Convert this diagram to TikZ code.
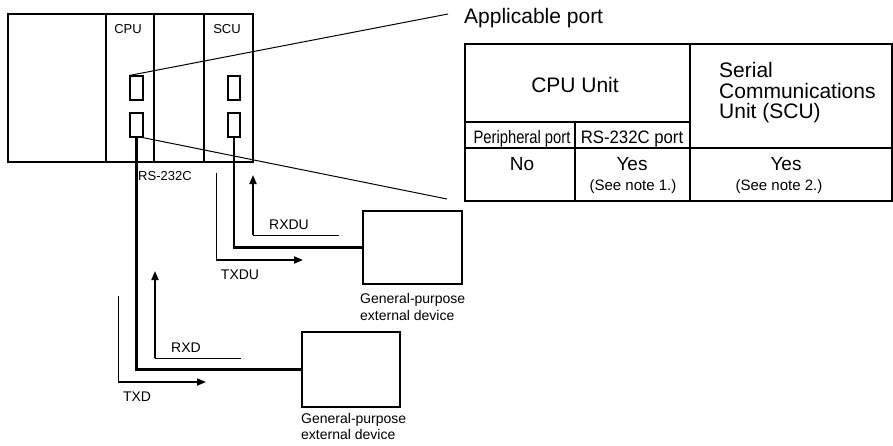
\documentclass[tikz,border=0pt]{standalone}
\usepackage{fontspec}
\setmainfont{Liberation Sans}
\usetikzlibrary{arrows.meta,calc}
\newcommand{\fsz}[1]{\fontsize{#1}{#1}\selectfont}
\begin{document}
\begin{tikzpicture}[x=1pt,y=-1pt,
  thinline/.style={line width=1pt},
  thickline/.style={line width=2.8pt},
  boxline/.style={line width=1.2pt},
  sig/.style={line width=1pt},
  sigarrow/.style={line width=1.8pt,-{Triangle[length=9pt,width=7pt]}},
  port/.style={draw,line width=1.1pt,rectangle,inner sep=0pt,minimum width=13pt,minimum height=24pt},
  dev/.style={draw,line width=1.2pt,rectangle,inner sep=0pt},
  lbl/.style={inner sep=0pt,anchor=base},
]
\useasboundingbox (0,0) rectangle (893,445);
\fill[white] (0,0) rectangle (893,445);

% rack
\draw[boxline] (8,14) rectangle (253,162);
\draw[boxline] (106,14) -- (106,162);
\draw[boxline] (154,14) -- (154,162);
\draw[boxline] (204,14) -- (204,162);
\node[lbl,font=\fsz{13}] (cpul) at (128,33) {CPU};
\node[lbl,font=\fsz{13}] (scul) at (227,33) {SCU};
\node[port] (cpuA) at (136.5,88) {};
\node[port] (cpuB) at (136.5,125) {};
\node[port,minimum width=12pt] (scuA) at (234,88) {};
\node[port,minimum width=12pt] (scuB) at (234,125) {};
\node[lbl,anchor=base west,font=\fsz{13}] (rs) at (138,180) {RS-232C};

% zoom lines
\coordinate (z1) at (448,14);
\coordinate (z2s) at (140,137);
\coordinate (z2) at (447,199);
\draw[thinline] (cpuA.north west) -- (z1);
\draw[thinline] (z2s) -- (z2);

% devices
\node[dev,minimum width=99pt,minimum height=73pt] (dev1) at (412.5,247.5) {};
\node[dev,minimum width=98pt,minimum height=75pt] (dev2) at (351,369.5) {};
\node[lbl,anchor=base west,font=\fsz{14}] (d1a) at (360,303) {General-purpose};
\node[lbl,anchor=base west,font=\fsz{14}] (d1b) at (360,320) {external device};
\node[lbl,anchor=base west,font=\fsz{14}] (d2a) at (301,423) {General-purpose};
\node[lbl,anchor=base west,font=\fsz{14}] (d2b) at (301,439) {external device};

% cables
\draw[thickline] (cpuB.south) |- (dev2.west);
\draw[thickline] (scuB.south) |- (dev1.west);

% signal arrows
\coordinate (rxdu0) at (339,235);
\coordinate (rxdu1) at (253,235);
\coordinate (rxdu2) at (253,175);
\draw[sig] (rxdu0) -- (rxdu1);
\draw[sigarrow] (rxdu1) -- (rxdu2);
\coordinate (txdu0) at (216,173);
\coordinate (txdu1) at (216,260);
\coordinate (txdu2) at (303,260);
\draw[sig] (txdu0) -- (txdu1);
\draw[sigarrow] (txdu1) -- (txdu2);
\coordinate (rxd0) at (241,358);
\coordinate (rxd1) at (155,358);
\coordinate (rxd2) at (155,271);
\draw[sig] (rxd0) -- (rxd1);
\draw[sigarrow] (rxd1) -- (rxd2);
\coordinate (txd0) at (118,296);
\coordinate (txd1) at (118,382);
\coordinate (txd2) at (206,382);
\draw[sig] (txd0) -- (txd1);
\draw[sigarrow] (txd1) -- (txd2);
\node[lbl,font=\fsz{14}] (rxdul) at (289,229) {RXDU};
\node[lbl,font=\fsz{14}] (txdul) at (240,279) {TXDU};
\node[lbl,font=\fsz{14}] (rxdl) at (186,352) {RXD};
\node[lbl,font=\fsz{14}] (txdl) at (137,401) {TXD};

% table
\node[lbl,anchor=base west,font=\fsz{21}] (ap) at (464,23) {Applicable port};
\draw[boxline] (465,44) rectangle (892,201);
\draw[boxline] (690,44) -- (690,201);
\draw[boxline] (465,122) -- (690,122);
\draw[boxline] (465,148) -- (892,148);
\draw[boxline] (575,122) -- (575,201);
\node[lbl,font=\fsz{21}] (cu) at (575,92) {CPU Unit};
\node[lbl,anchor=base west,font=\fsz{21}] (s1) at (719,77) {Serial};
\node[lbl,anchor=base west,font=\fsz{21}] (s2) at (719,98) {Communications};
\node[lbl,anchor=base west,font=\fsz{21}] (s3) at (719,118) {Unit (SCU)};
\node[lbl,font=\fsz{18}] (pp) at (522,143) {\scalebox{0.82}[1]{Peripheral port}};
\node[lbl,font=\fsz{18}] (rp) at (632,143) {\scalebox{0.93}[1]{RS-232C port}};
\node[lbl,font=\fsz{19}] (no) at (522,170) {No};
\node[lbl,font=\fsz{19}] (y1) at (632,170) {Yes};
\node[lbl,font=\fsz{15}] (n1) at (633,190) {(See note 1.)};
\node[lbl,font=\fsz{19}] (y2) at (786,170) {Yes};
\node[lbl,font=\fsz{15}] (n2) at (779,190) {(See note 2.)};
\end{tikzpicture}
\end{document}
